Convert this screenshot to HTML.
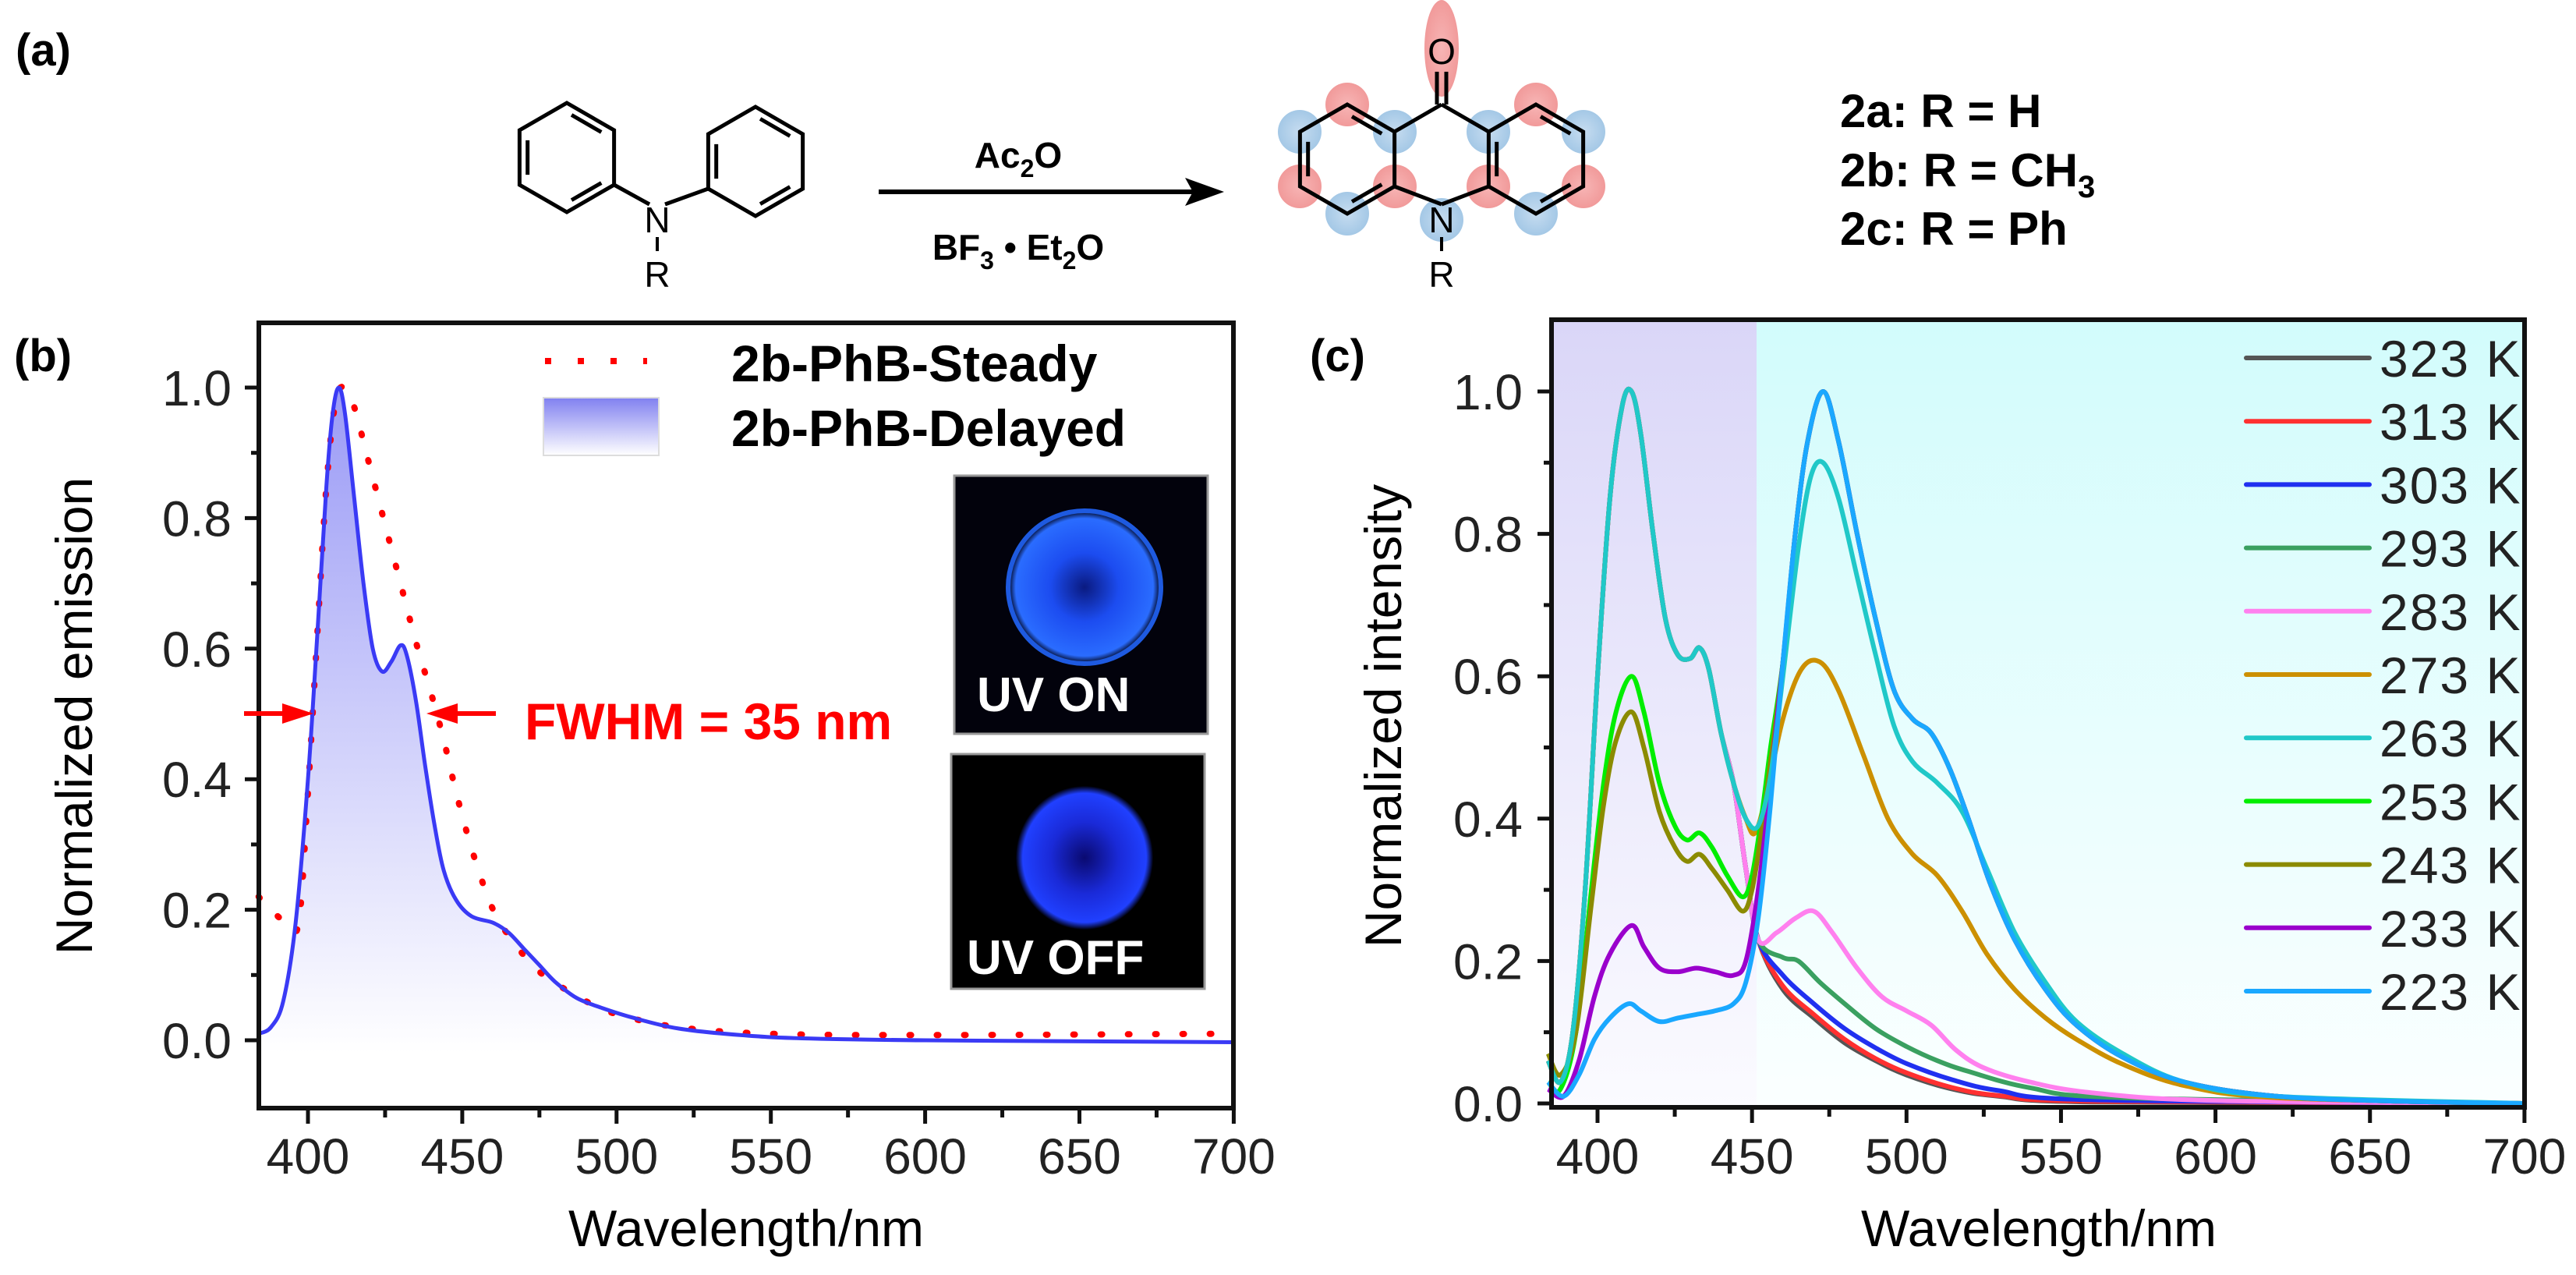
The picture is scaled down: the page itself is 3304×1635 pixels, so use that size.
<!DOCTYPE html>
<html><head><meta charset="utf-8"><style>
html,body{margin:0;padding:0;background:#fff}
svg{display:block}
text{font-family:"Liberation Sans",Arial,sans-serif}
</style></head><body>
<svg id="s" width="3304" height="1635" viewBox="0 0 3304 1635" xmlns="http://www.w3.org/2000/svg">
<defs>
<linearGradient id="gb" x1="0" y1="0" x2="0" y2="1"><stop offset="0" stop-color="#8f8ff5"/><stop offset="0.5" stop-color="#c8c8fa"/><stop offset="1" stop-color="#ffffff"/></linearGradient>
<linearGradient id="gl" x1="0" y1="0" x2="0" y2="1"><stop offset="0" stop-color="#8080f0"/><stop offset="1" stop-color="#ffffff"/></linearGradient>
<linearGradient id="gc1" x1="0" y1="0" x2="0" y2="1"><stop offset="0" stop-color="#dad6f8"/><stop offset="1" stop-color="#fbfbff"/></linearGradient>
<linearGradient id="gc2" x1="0" y1="0" x2="0" y2="1"><stop offset="0" stop-color="#d2fcfc"/><stop offset="1" stop-color="#fbffff"/></linearGradient>
<radialGradient id="ph1" cx="0.5" cy="0.5" r="0.5"><stop offset="0" stop-color="#0a1a80"/><stop offset="0.45" stop-color="#1c4cf0"/><stop offset="0.9" stop-color="#2a6cff"/><stop offset="1" stop-color="#000010"/></radialGradient>
<radialGradient id="ph2" cx="0.5" cy="0.5" r="0.5"><stop offset="0" stop-color="#0a0a70"/><stop offset="0.5" stop-color="#1a2ad8"/><stop offset="0.9" stop-color="#2040ff"/><stop offset="1" stop-color="#000008"/></radialGradient>
<radialGradient id="pk" cx="0.5" cy="0.5" r="0.5"><stop offset="0" stop-color="#f7b5b5"/><stop offset="1" stop-color="#f19a9a"/></radialGradient>
<radialGradient id="bl" cx="0.5" cy="0.5" r="0.5"><stop offset="0" stop-color="#c6dcf0"/><stop offset="1" stop-color="#a4c8e6"/></radialGradient>
</defs>

<!-- (a) -->
<text x="20" y="84" font-size="58" font-weight="bold">(a)</text>
<g id="mol" stroke="#000" stroke-width="5" fill="none" stroke-linejoin="miter"></g>
<text x="843" y="298" font-size="46" text-anchor="middle">N</text>
<line x1="843" y1="304" x2="843" y2="322" stroke="#000" stroke-width="4"/>
<text x="843" y="368" font-size="46" text-anchor="middle">R</text>
<line x1="1127" y1="246" x2="1530" y2="246" stroke="#000" stroke-width="6"/>
<polygon points="1570,246 1520,228 1530,246 1520,264" fill="#000"/>
<text x="1306" y="215" font-size="46" font-weight="bold" text-anchor="middle">Ac<tspan font-size="32" dy="12">2</tspan><tspan dy="-12">O</tspan></text>
<text x="1306" y="333" font-size="46" font-weight="bold" text-anchor="middle">BF<tspan font-size="32" dy="12">3</tspan><tspan dy="-12"> • Et</tspan><tspan font-size="32" dy="12">2</tspan><tspan dy="-12">O</tspan></text>
<text x="1849" y="82" font-size="46" text-anchor="middle">O</text>
<text x="1849" y="298" font-size="46" text-anchor="middle">N</text>
<line x1="1849" y1="304" x2="1849" y2="322" stroke="#000" stroke-width="4"/>
<text x="1849" y="368" font-size="46" text-anchor="middle">R</text>
<text x="2360" y="163" font-size="60" font-weight="bold">2a: R = H</text>
<text x="2360" y="239" font-size="60" font-weight="bold">2b: R = CH<tspan font-size="40" dy="14">3</tspan></text>
<text x="2360" y="314" font-size="60" font-weight="bold">2c: R = Ph</text>

<!-- (b) -->
<text x="18" y="476" font-size="58" font-weight="bold">(b)</text>
<g id="pb"></g>
<text transform="translate(118,918) rotate(-90)" font-size="66" text-anchor="middle">Normalized emission</text>
<text x="957" y="1598" font-size="66" text-anchor="middle">Wavelength/nm</text>
<!-- legend b -->
<line x1="699" y1="463" x2="830" y2="463" stroke="#f00" stroke-width="8" stroke-dasharray="8 34"/>
<rect x="697" y="510" width="148" height="74" fill="url(#gl)" stroke="#ddd" stroke-width="2"/>
<text x="938" y="489" font-size="66" font-weight="bold">2b-PhB-Steady</text>
<text x="938" y="572" font-size="66" font-weight="bold">2b-PhB-Delayed</text>
<text x="673" y="948" font-size="66" font-weight="bold" fill="#f00">FWHM = 35 nm</text>
<!-- photos -->
<rect x="1224" y="610" width="325" height="331" fill="#02020c" stroke="#999" stroke-width="3"/>
<circle cx="1391" cy="753" r="98" fill="url(#ph1)"/>
<circle cx="1391" cy="753" r="98" fill="none" stroke="#1e5ae0" stroke-width="6"/>
<text x="1253" y="912" font-size="62" font-weight="bold" fill="#fff">UV ON</text>
<rect x="1220" y="967" width="325" height="301" fill="#000" stroke="#999" stroke-width="3"/>
<ellipse cx="1391" cy="1100" rx="88" ry="92" fill="url(#ph2)"/>
<text x="1240" y="1249" font-size="62" font-weight="bold" fill="#fff">UV OFF</text>

<!-- (c) -->
<text x="1680" y="476" font-size="58" font-weight="bold">(c)</text>
<rect x="1990" y="410" width="263" height="1010" fill="url(#gc1)"/>
<rect x="2253" y="410" width="985" height="1010" fill="url(#gc2)"/>
<g id="pc"></g>
<text transform="translate(1797,918) rotate(-90)" font-size="66" text-anchor="middle">Normalized intensity</text>
<text x="2615" y="1598" font-size="66" text-anchor="middle">Wavelength/nm</text>
<g id="legc"></g>
</svg>
<script>
var NS="http://www.w3.org/2000/svg";
function el(p,t,a){var e=document.createElementNS(NS,t);for(var k in a)e.setAttribute(k,a[k]);p.appendChild(e);return e;}
function txt(p,x,y,s,a){var e=el(p,"text",Object.assign({x:x,y:y},a));e.textContent=s;return e;}
// molecules
var mol=document.getElementById("mol");
function hexPts(cx,cy,r){var p=[];for(var i=0;i<6;i++){var a=Math.PI/180*(-90+60*i);p.push([cx+r*Math.cos(a),cy+r*Math.sin(a)]);}return p;}
function hex(cx,cy,r,dbl){var p=hexPts(cx,cy,r);el(mol,"polygon",{points:p.map(function(q){return q.join(",")}).join(" ")});
 dbl.forEach(function(i){var a=p[i],b=p[(i+1)%6];var mx=cx,my=cy;function sh(q){return [q[0]+(mx-q[0])*0.17,q[1]+(my-q[1])*0.17];}
 var A=sh(a),B=sh(b);var ax=A[0]+(B[0]-A[0])*0.12,ay=A[1]+(B[1]-A[1])*0.12,bx=A[0]+(B[0]-A[0])*0.88,by=A[1]+(B[1]-A[1])*0.88;
 el(mol,"line",{x1:ax,y1:ay,x2:bx,y2:by});});return p;}
var r1=hex(727,202,70,[0,2,4]);var r2=hex(969,207,70,[0,2,4]);
el(mol,"line",{x1:r1[2][0],y1:r1[2][1],x2:833,y2:262});
el(mol,"line",{x1:r2[4][0],y1:r2[4][1],x2:853,y2:262});
// product orbitals
var g=document.getElementById("s");
var orbs=[[1849,62,'pk',22,62],[1728,134,'pk',28,28],[1970,134,'pk',28,28],[1667,169,'bl',28,28],[1789,169,'bl',28,28],[1909,169,'bl',28,28],[2031,169,'bl',28,28],
[1667,239,'pk',28,28],[1789,239,'pk',28,28],[1909,239,'pk',28,28],[2031,239,'pk',28,28],[1728,274,'bl',28,28],[1970,274,'bl',28,28],[1849,282,'bl',28,28],[1849,134,'pk',0,0]];
var og=el(g,"g",{});g.insertBefore(og,mol);
orbs.forEach(function(o){if(o[3])el(og,"ellipse",{cx:o[0],cy:o[1],rx:o[3],ry:o[4],fill:"url(#"+o[2]+")"});});
var P=[hex(1728,204,70,[0,2,4]),hex(1970,204,70,[0,2,4])];
var c0=hexPts(1849,204,70);
el(mol,"line",{x1:c0[0][0],y1:c0[0][1],x2:c0[1][0],y2:c0[1][1]});
el(mol,"line",{x1:c0[0][0],y1:c0[0][1],x2:c0[5][0],y2:c0[5][1]});
el(mol,"line",{x1:c0[3][0],y1:c0[3][1]-12,x2:c0[2][0],y2:c0[2][1]});
el(mol,"line",{x1:c0[3][0],y1:c0[3][1]-12,x2:c0[4][0],y2:c0[4][1]});
el(mol,"line",{x1:1843,y1:134,x2:1843,y2:92});el(mol,"line",{x1:1855,y1:134,x2:1855,y2:92});

// smoothing
function smooth(pts){var d="M"+pts[0][0].toFixed(1)+","+pts[0][1].toFixed(1);
 for(var i=0;i<pts.length-1;i++){var p0=pts[Math.max(0,i-1)],p1=pts[i],p2=pts[i+1],p3=pts[Math.min(pts.length-1,i+2)];
 var c1=[p1[0]+(p2[0]-p0[0])/6,p1[1]+(p2[1]-p0[1])/6],c2=[p2[0]-(p3[0]-p1[0])/6,p2[1]-(p3[1]-p1[1])/6];
 d+="C"+c1[0].toFixed(1)+","+c1[1].toFixed(1)+" "+c2[0].toFixed(1)+","+c2[1].toFixed(1)+" "+p2[0].toFixed(1)+","+p2[1].toFixed(1);}return d;}

function axes(grp,L,T,R,B,X,Y,ymin,ymax,lx){
 // ticks
 for(var v=0;v<=1.0001;v+=0.1){var y=Y(v);var maj=Math.round(v*10)%2==0;
  el(grp,"line",{x1:L-(maj?18:10),y1:y,x2:L,y2:y,stroke:"#111","stroke-width":5});
  if(maj)txt(grp,lx,y+23,v.toFixed(1),{"font-size":64,"text-anchor":"end",fill:"#222"});}
 for(var w=400;w<=700;w+=25){var x=X(w);var maj=w%50==0;
  el(grp,"line",{x1:x,y1:B,x2:x,y2:B+(maj?20:12),stroke:"#111","stroke-width":5});
  if(maj)txt(grp,x,1505,String(w),{"font-size":64,"text-anchor":"middle",fill:"#222"});}
 el(grp,"rect",{x:L,y:T,width:R-L,height:B-T,fill:"none",stroke:"#111","stroke-width":6});
}
// panel b
var pb=document.getElementById("pb");
var XB=function(w){return 395+(w-400)*3.958},YB=function(v){return 1334-v*837};
var del=[[384,0.01],[388,0.02],[392,0.06],[396,0.18],[400,0.4],[403,0.62],[406,0.85],[408,0.96],[410,1.0],[412,0.96],[415,0.83],[418,0.7],[421,0.6],[424,0.565],[427,0.58],[430,0.605],[432,0.59],[435,0.52],[438,0.42],[441,0.33],[444,0.26],[448,0.215],[453,0.19],[460,0.18],[465,0.165],[470,0.14],[475,0.115],[480,0.09],[487,0.065],[495,0.05],[505,0.035],[520,0.018],[540,0.008],[560,0.003],[600,0],[700,-0.003]];
var dp=del.map(function(a){return [XB(a[0]),YB(a[1])]});
var fill=smooth(dp)+"L"+XB(700)+","+YB(-0.02)+"L"+XB(384)+","+YB(-0.02)+"Z";
el(pb,"path",{d:fill,fill:"url(#gb)",opacity:0.9});
var st=[[384,0.22],[388,0.2],[393,0.18],[397,0.18],[400,0.38],[403,0.62],[406,0.85],[409,0.98],[412,1.0],[415,0.97],[420,0.88],[425,0.79],[430,0.7],[435,0.61],[440,0.53],[444,0.46],[448,0.38],[452,0.31],[456,0.25],[460,0.2],[465,0.16],[470,0.13],[475,0.105],[480,0.088],[490,0.06],[500,0.04],[520,0.02],[550,0.01],[600,0.008],[700,0.01]];
el(pb,"path",{d:smooth(st.map(function(a){return [XB(a[0]),YB(a[1])]})),fill:"none",stroke:"#f00","stroke-width":8,"stroke-dasharray":"2 33","stroke-linecap":"round"});
el(pb,"path",{d:smooth(dp),fill:"none",stroke:"#3a3af5","stroke-width":5});
axes(pb,332,414,1582,1421,XB,YB,0,1,297);
// FWHM arrows
el(pb,"line",{x1:313,y1:915,x2:370,y2:915,stroke:"#f00","stroke-width":6});
el(pb,"polygon",{points:"402,915 362,902 362,928",fill:"#f00"});
el(pb,"line",{x1:580,y1:915,x2:636,y2:915,stroke:"#f00","stroke-width":6});
el(pb,"polygon",{points:"547,915 587,902 587,928",fill:"#f00"});

// panel c
var pc=document.getElementById("pc");
var XC=function(w){return 2049+(w-400)*3.963},YC=function(v){return 1415-v*913};
var baseL=[[384,0.06],[388,0.03],[392,0.1],[396,0.3],[400,0.6],[404,0.85],[408,0.98],[411,1.0],[414,0.94],[418,0.8],[422,0.68],[426,0.63],[430,0.625],[433,0.64],[436,0.61],[440,0.52],[444,0.45]];
var hiR=[[448,0.33],[452,0.23]];
var peakR=[[456,0.42],[460,0.62],[464,0.8],[468,0.93],[473,1.0],[478,0.93],[484,0.8],[490,0.68],[496,0.58],[502,0.54],[508,0.52],[514,0.47],[520,0.4],[527,0.31],[535,0.23],[545,0.16],[555,0.11],[570,0.065],[590,0.03],[620,0.01],[660,0.003],[700,0.0]];
var S={
"#555":baseL.concat(hiR,[[460,0.16],[470,0.12],[480,0.085],[490,0.06],[500,0.04],[515,0.02],[530,0.01],[560,0.002],[700,0]]),
"#ff3030":baseL.concat(hiR,[[460,0.165],[470,0.125],[480,0.09],[490,0.063],[500,0.043],[515,0.022],[530,0.011],[560,0.003],[700,0]]),
"#2030f0":baseL.concat(hiR,[[460,0.18],[470,0.14],[480,0.105],[490,0.078],[500,0.056],[515,0.033],[530,0.018],[560,0.005],[700,0]]),
"#3aa060":baseL.concat(hiR,[[460,0.205],[465,0.2],[472,0.17],[480,0.14],[490,0.105],[500,0.08],[510,0.06],[520,0.045],[540,0.022],[570,0.008],[700,0]]),
"#ff80ee":baseL.concat(hiR,[[458,0.24],[464,0.26],[470,0.27],[476,0.24],[484,0.19],[492,0.15],[500,0.13],[508,0.11],[516,0.075],[525,0.05],[540,0.03],[560,0.015],[600,0.004],[700,0]]),
"#cc9000":baseL.concat([[448,0.4],[451,0.38],[455,0.44],[460,0.54],[466,0.61],[472,0.62],[478,0.58],[486,0.49],[494,0.4],[502,0.35],[510,0.32],[518,0.27],[526,0.21],[535,0.16],[545,0.12],[555,0.09],[570,0.055],[590,0.025],[620,0.008],[700,0]]),
"#20c8c8":baseL.concat([[448,0.4],[452,0.39],[456,0.46],[460,0.6],[465,0.78],[469,0.88],[473,0.9],[478,0.85],[484,0.74],[490,0.63],[496,0.53],[502,0.48],[510,0.45],[518,0.41],[526,0.33],[535,0.24],[545,0.17],[555,0.115],[570,0.07],[590,0.03],[620,0.01],[700,0]]),
"#00ee00":[[384,0.03],[388,0.02],[393,0.1],[398,0.3],[402,0.45],[406,0.55],[411,0.6],[415,0.55],[420,0.45],[425,0.39],[429,0.37],[433,0.38],[437,0.36],[442,0.32],[447,0.29],[450,0.32],[453,0.4],[456,0.5]].concat(peakR.slice(1)),
"#8b8b00":[[384,0.07],[388,0.04],[393,0.1],[398,0.28],[402,0.42],[406,0.51],[411,0.55],[415,0.5],[420,0.41],[425,0.36],[429,0.34],[433,0.35],[437,0.33],[442,0.3],[447,0.27],[450,0.3],[453,0.38],[456,0.48]].concat(peakR.slice(1)),
"#9a00cc":[[384,0.02],[389,0.01],[394,0.06],[399,0.15],[404,0.21],[411,0.25],[415,0.22],[420,0.19],[426,0.185],[432,0.19],[438,0.185],[444,0.18],[448,0.2],[452,0.3],[456,0.45]].concat(peakR.slice(1)),
"#1aa8ff":[[384,0.03],[389,0.01],[394,0.04],[399,0.09],[404,0.12],[410,0.14],[414,0.13],[420,0.115],[426,0.12],[432,0.125],[438,0.13],[444,0.14],[448,0.17],[452,0.26],[456,0.42]].concat(peakR.slice(1))
};
var order=["#555","#ff3030","#2030f0","#3aa060","#ff80ee","#cc9000","#00ee00","#8b8b00","#9a00cc","#20c8c8","#1aa8ff"];
order.forEach(function(c){el(pc,"path",{d:smooth(S[c].map(function(a){return [XC(a[0]),Math.min(1415,YC(a[1]))]})),fill:"none",stroke:c,"stroke-width":6,"stroke-linejoin":"round"});});
axes(pc,1990,410,3238,1420,XC,YC,0,1,1953);
// legend c
var lg=document.getElementById("legc");
var labs=["323 K","313 K","303 K","293 K","283 K","273 K","263 K","253 K","243 K","233 K","223 K"];
var cols=["#555","#ff3030","#2030f0","#3aa060","#ff80ee","#cc9000","#20c8c8","#00ee00","#8b8b00","#9a00cc","#1aa8ff"];
for(var i=0;i<11;i++){var y=459+i*81.2;el(lg,"line",{x1:2881,y1:y,x2:3039,y2:y,stroke:cols[i],"stroke-width":6,"stroke-linecap":"round"});
 txt(lg,3052,y+24,labs[i],{"font-size":66,fill:"#222","letter-spacing":"2"});}
</script>
</body></html>
